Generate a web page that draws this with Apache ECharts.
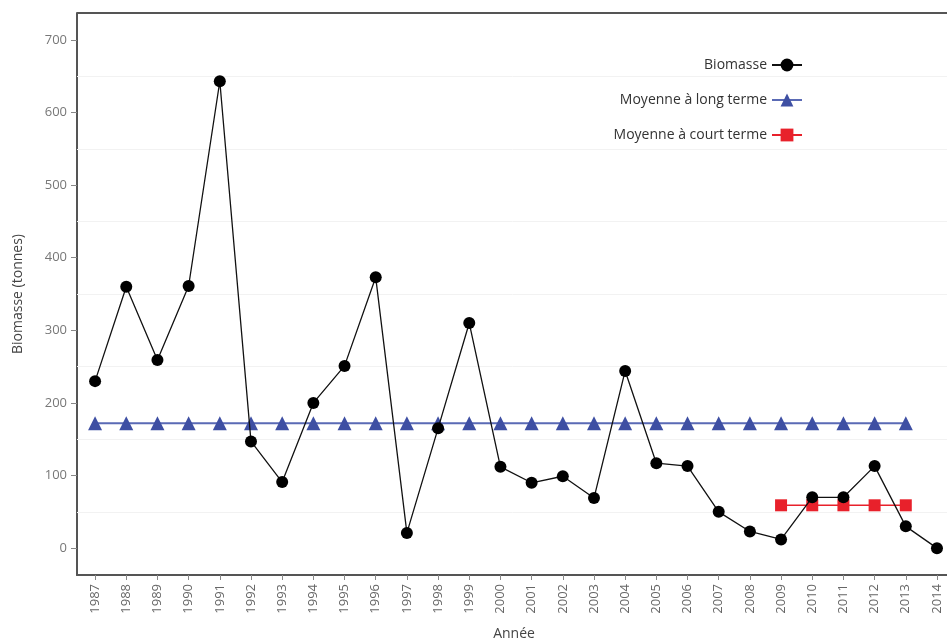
<!DOCTYPE html>
<html><head><meta charset="utf-8">
<script src="https://cdn.jsdelivr.net/npm/echarts@6/dist/echarts.min.js"></script>
<style>html,body{margin:0;padding:0;background:#fff}#c{width:947px;height:640px}</style>
</head><body><div id="c"></div>
<script>
const years = [1987,1988,1989,1990,1991,1992,1993,1994,1995,1996,1997,1998,1999,2000,2001,2002,2003,2004,2005,2006,2007,2008,2009,2010,2011,2012,2013,2014];
const biomasse = [230,360,259,361,643,147,91,200,251,373,21,165,310,112,90,99,69,244,117,113,50,23,12,70,70,113,30,0];
const longYears = [1987,1988,1989,1990,1991,1992,1993,1994,1995,1996,1997,1998,1999,2000,2001,2002,2003,2004,2005,2006,2007,2008,2009,2010,2011,2012,2013];
const longMean = [172,172,172,172,172,172,172,172,172,172,172,172,172,172,172,172,172,172,172,172,172,172,172,172,172,172,172];
const shortYears = [2009,2010,2011,2012,2013];
const shortMean = [59,59,59,59,59];
const minorGrid = [50,150,250,350,450,550,650];

const pair = (xs, ys) => xs.map((x, i) => [x, ys[i]]);
const font = '"Open Sans", "Noto Sans", sans-serif';
const chart = echarts.init(document.getElementById('c'));
chart.setOption({
  animation: false,
  grid: { left: 77, right: -4, top: 13, bottom: 65, show: false, containLabel: false, outerBoundsMode: 'none' },
  legend: {
    orient: 'vertical', right: 139, top: 53, align: 'right', itemGap: 21,
    itemWidth: 30, itemHeight: 16,
    textStyle: { fontFamily: font, fontSize: 14, color: '#333' },
    data: ['Biomasse', 'Moyenne à long terme', 'Moyenne à court terme']
  },
  xAxis: {
    type: 'value', min: 1986.42, max: 2014.45,
    name: 'Année', nameLocation: 'middle', nameGap: 52,
    nameTextStyle: { fontFamily: font, fontSize: 14, color: '#444' },
    axisLine: { show: true, onZero: false, lineStyle: { color: '#555', width: 2 } },
    axisTick: { show: true, length: 5, lineStyle: { color: '#888' }, customValues: years },
    axisLabel: { rotate: 90, fontFamily: font, fontSize: 13, color: '#666', margin: 9,
      customValues: years, formatter: v => String(v) },
    splitLine: { show: false }
  },
  yAxis: {
    type: 'value', min: -37, max: 737, splitNumber: 8,
    name: 'Biomasse (tonnes)', nameLocation: 'middle', nameGap: 52,
    nameTextStyle: { fontFamily: font, fontSize: 14, color: '#444' },
    axisLine: { show: true, lineStyle: { color: '#555', width: 2 } },
    axisTick: { show: true, length: 6, lineStyle: { color: '#888' } },
    axisLabel: { fontFamily: font, fontSize: 13, color: '#777', margin: 10,
      showMinLabel: false, showMaxLabel: false },
    splitLine: { show: false }
  },
  series: [
    {
      name: 'Biomasse', type: 'line', data: pair(years, biomasse),
      symbol: 'circle', symbolSize: 12,
      itemStyle: { color: '#000' }, lineStyle: { color: '#111', width: 1.3 }, z: 5
    },
    {
      name: 'Moyenne à long terme', type: 'line', data: pair(longYears, longMean),
      symbol: 'triangle', symbolSize: 14,
      itemStyle: { color: '#3E4FA3' }, lineStyle: { color: '#5A6AB5', width: 2 }, z: 3
    },
    {
      name: 'Moyenne à court terme', type: 'line', data: pair(shortYears, shortMean),
      symbol: 'rect', symbolSize: 12,
      itemStyle: { color: '#E8212B' }, lineStyle: { color: '#E8212B', width: 1.5 }, z: 4
    },
    {
      type: 'line', data: [], silent: true,
      markLine: {
        silent: true, symbol: 'none', label: { show: false },
        lineStyle: { color: '#f2f2f2', type: 'solid', width: 1 },
        data: minorGrid.map(v => ({ yAxis: v }))
      }
    },
    {
      type: 'line', data: [], silent: true,
      markLine: { silent: true, symbol: 'none', label: { show: false },
        lineStyle: { color: '#555', type: 'solid', width: 2 },
        data: [{ yAxis: 737 }] }
    }
  ]
});
</script></body></html>
